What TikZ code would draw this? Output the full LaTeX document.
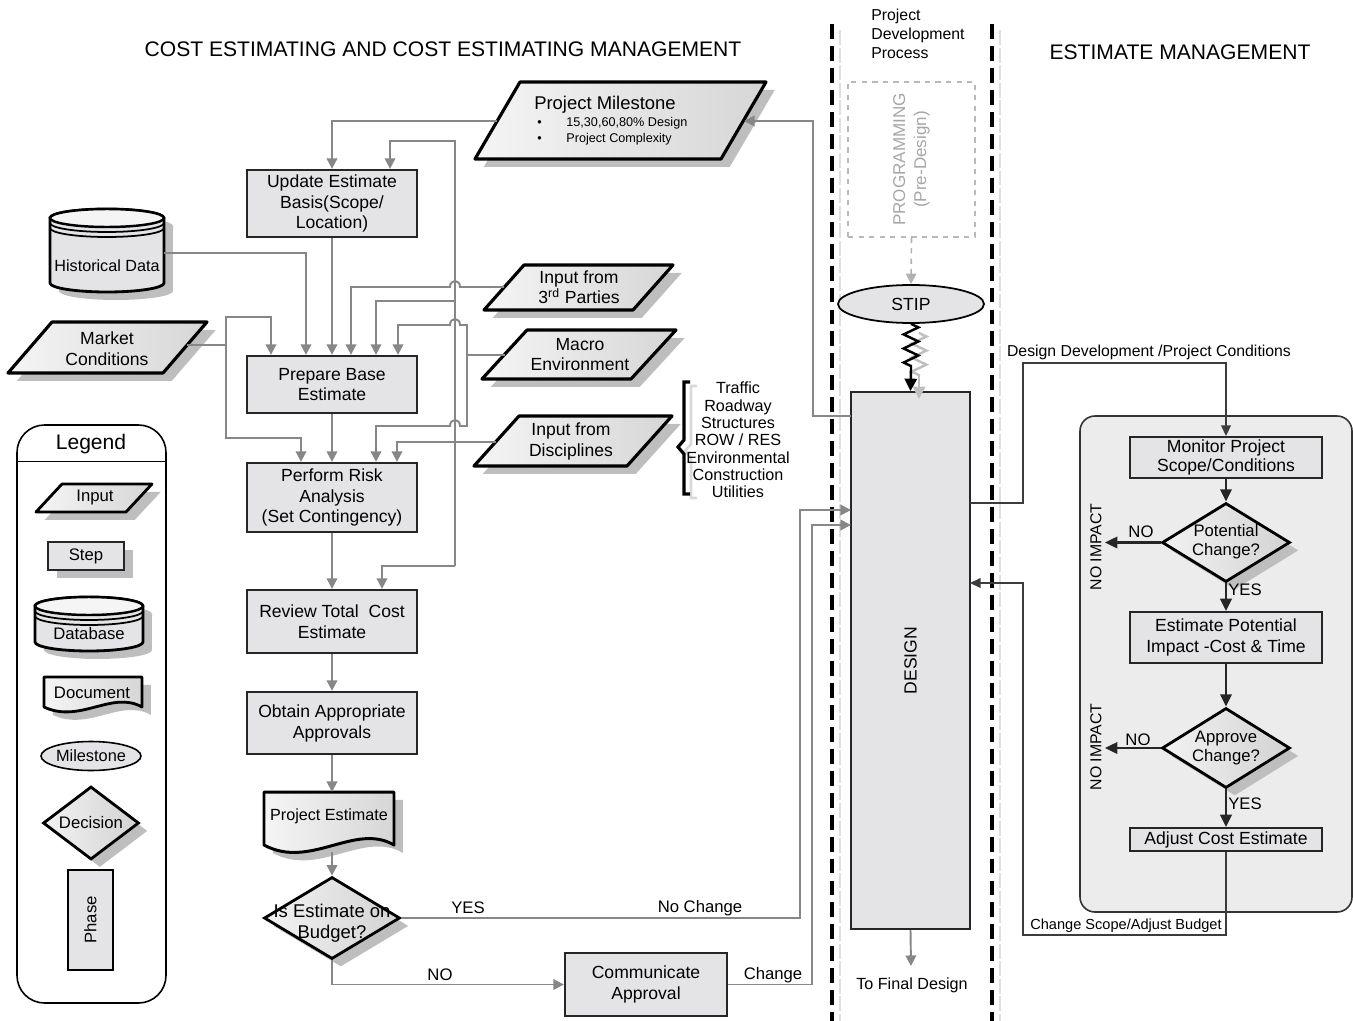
\documentclass[tikz,border=0pt]{standalone}
\usepackage{fontspec}
\setmainfont{Liberation Sans}
\usetikzlibrary{arrows.meta,decorations.pathmorphing,shapes.geometric,shadows,calc}
\definecolor{cgrey}{RGB}{135,135,138}
\definecolor{boxfill}{RGB}{228,228,230}
\definecolor{shd}{RGB}{190,190,190}
\definecolor{panelc}{RGB}{236,236,236}
\definecolor{dline}{RGB}{60,60,60}
\newcommand\fsz[2]{\fontsize{#1}{#2}\selectfont}
\def\pu{0.02cm}
\begin{document}
\begin{tikzpicture}[x=0.02cm,y=-0.02cm,
 conn/.style={draw=cgrey, line width=1.1pt, -{Triangle[length=6pt,width=6pt]}},
 gline/.style={draw=cgrey, line width=1.1pt},
 bconn/.style={draw=dline, line width=0.8pt, -{Triangle[length=6pt,width=5.5pt]}},
 pconn/.style={draw=black!85, line width=1.2pt, -{Triangle[length=7pt,width=6.5pt]}},
 stepbox/.style={draw=black!85, line width=1.3pt, fill=boxfill, inner sep=0pt, align=center, font=\fsz{10}{11.9}},
 parash/.style={draw=black, line width=1.8pt, line join=round, left color=gray!8, right color=gray!32},
 dia/.style={diamond, draw=black, line width=1.6pt, left color=gray!10, right color=gray!35, inner sep=0pt, shdw},
 shdw/.style={general shadow={fill=shd, shadow xshift=5pt, shadow yshift=-4.5pt}},
 lbl/.style={font=\fsz{9.5}{11}, inner sep=1pt},
 lane/.style={draw=black, line width=1.8pt, dash pattern=on 8.5pt off 4pt},
 lanelt/.style={draw=gray!25, line width=1pt, dash pattern=on 8.5pt off 1.5pt},
 zz/.style={decorate, decoration={zigzag, amplitude=4.2pt, segment length=8pt}},
 ]
\useasboundingbox (0,0) rectangle (1353,1021);

% titles
\node[font=\fsz{12}{14}] (ttl) at (443,49) {COST ESTIMATING AND COST ESTIMATING MANAGEMENT};
\node[font=\fsz{12}{14}] (ttr) at (1180,52) {ESTIMATE MANAGEMENT};
\node[font=\fsz{9}{10.8}, align=left, anchor=north west, inner sep=0pt] (pdp) at (871,9) {Project\\Development\\Process};

% lanes
\draw[lane] (832,24) -- (832,1021);
\draw[lanelt] (840,30) -- (840,1021);
\draw[lane] (992,24) -- (992,1021);
\draw[lanelt] (1000,30) -- (1000,1021);

% programming
\node[draw=gray!55, dashed, line width=0.7pt, minimum width=127*\pu, minimum height=155*\pu, inner sep=0pt] (prog) at (911.5,159.5) {};
\node[rotate=90, text=gray!70, font=\fsz{9.7}{12}, align=center] (progt) at (prog.center) {PROGRAMMING\\(Pre-Design)};
\node[ellipse, draw=black, line width=1pt, fill=boxfill, minimum width=146*\pu, minimum height=38*\pu, inner sep=0pt, font=\fsz{10}{12}] (stip) at (911,304) {STIP};
\draw[draw=gray!60, dashed, line width=0.9pt, -{Triangle[length=6pt,width=6pt]}] (prog.south) -- (stip.north);

% design
\node[draw=black!85, line width=1.2pt, fill=boxfill, minimum width=119*\pu, minimum height=537*\pu, inner sep=0pt] (des) at (910.5,660.5) {};
\node[rotate=90, font=\fsz{10}{12}] (dest) at (des.center) {DESIGN};
\coordinate (zg1) at (919,333);
\coordinate (zg2) at (919,376);
\coordinate (zg3) at (919,399);
\coordinate (zz2) at (911,370);
\draw[gray!50, line width=1.4pt, zz] (zg1) -- (zg2);
\draw[gray!50, line width=1.4pt, -{Triangle[length=7pt,width=7pt]}] (zg2) -- (zg3);
\draw[black, line width=1.4pt, zz] (stip.south) -- (zz2);
\draw[black, line width=1.4pt, -{Triangle[length=7pt,width=7pt]}] (zz2) -- (des.north);

% left steps
\node[stepbox, minimum width=170*\pu, minimum height=67*\pu] (upd) at (332,203.5) {Update Estimate\\Basis(Scope/\\Location)};
\node[stepbox, minimum width=170*\pu, minimum height=57*\pu] (prep) at (332,384.5) {Prepare Base\\Estimate};
\node[stepbox, minimum width=170*\pu, minimum height=69*\pu] (risk) at (332,497.5) {Perform Risk\\Analysis\\(Set Contingency)};
\node[stepbox, minimum width=170*\pu, minimum height=63*\pu] (rev) at (332,621.5) {Review Total\ \ Cost\\Estimate};
\node[stepbox, minimum width=170*\pu, minimum height=62*\pu] (obt) at (332,723) {Obtain Appropriate\\Approvals};
\node[stepbox, minimum width=162*\pu, minimum height=63*\pu] (comm) at (646,984.5) {Communicate\\Approval};

% document
\draw[parash, shdw, line width=1.7pt] (264,792) -- (394,792) -- (394,845) .. controls (355,822) and (310,870) .. (264,845) -- cycle;
\node[font=\fsz{9.2}{11}] (pest) at (329,816) {Project Estimate};
\coordinate (pestT) at (332,792);
\coordinate (pestB) at (332,852);

% decision
\node[dia, minimum width=136*\pu, minimum height=82*\pu] (dec) at (332,918) {};
\node[font=\fsz{10.5}{12}, align=center] (dect) at (332,923) {Is Estimate on\\Budget?};

% inputs
\draw[parash, shdw] (520,82) -- (766,82) -- (721,159) -- (475,159) -- cycle;
\node[font=\fsz{10.5}{12}] (pm) at (605,105) {Project Milestone};
\node[font=\fsz{7.2}{9}, anchor=west, inner sep=0pt] (pmb1) at (537,123) {\textbullet\hspace{14pt}15,30,60,80\% Design};
\node[font=\fsz{7.2}{9}, anchor=west, inner sep=0pt] (pmb2) at (537,139) {\textbullet\hspace{14pt}Project Complexity};
\coordinate (pmL) at (497,121);
\coordinate (pmR) at (744,121);

\draw[parash, shdw] (524,265) -- (673,265) -- (633,310) -- (484,310) -- cycle;
\node[font=\fsz{10}{11.5}, align=center] (tp) at (579,287) {Input from\\3\textsuperscript{rd} Parties};
\coordinate (tpL) at (504,287);
\draw[parash, shdw] (527,330) -- (676,330) -- (631,379) -- (482,379) -- cycle;
\node[font=\fsz{10}{11.5}, align=center] (mac) at (580,354.5) {Macro\\Environment};
\coordinate (macL) at (505,355);
\draw[parash, shdw] (519,416) -- (672,416) -- (627,466) -- (474,466) -- cycle;
\node[font=\fsz{10}{11.8}, align=center] (dis) at (571,441.5) {Input from\\Disciplines};
\coordinate (disL) at (496,442);
\draw[parash, shdw] (52,322) -- (207,322) -- (163,373) -- (8,373) -- cycle;
\node[font=\fsz{10}{11.8}, align=center] (mkt) at (107,348.5) {Market\\Conditions};
\coordinate (mktR) at (187,345);

% brace and list
\draw[gray!30, line width=1.5pt] (697,386) -- (691,386) -- (691,444) -- (685,451) -- (691,458) -- (691,498) -- (697,498);
\draw[black, line width=1.8pt] (690,382) -- (684,382) -- (684,440) -- (678,447) -- (684,454) -- (684,494) -- (690,494);
\node[font=\fsz{9.2}{9.85}, align=center] (disc) at (738,440) {Traffic\\Roadway\\Structures\\ROW / RES\\Environmental\\Construction\\Utilities};

% historical data cylinder
\fill[shd] (59,226) -- (59,291) arc[start angle=180,end angle=360,x radius=1.14cm,y radius=0.18cm] -- (173,226) arc[start angle=0,end angle=180,x radius=1.14cm,y radius=0.18cm] -- cycle;
\draw[black, line width=1.6pt, fill=boxfill] (50,218) -- (50,283) arc[start angle=180,end angle=360,x radius=1.14cm,y radius=0.18cm] -- (164,218) arc[start angle=0,end angle=180,x radius=1.14cm,y radius=0.18cm] -- cycle;
\draw[black, line width=1.4pt, fill=gray!8] (107,218) ellipse[x radius=1.14cm, y radius=0.18cm];
\draw[black, line width=1pt] (50,223) arc[start angle=180,end angle=360,x radius=1.14cm,y radius=0.18cm];
\draw[black, line width=1pt] (50,228) arc[start angle=180,end angle=360,x radius=1.14cm,y radius=0.18cm];
\node[font=\fsz{9.2}{11}] (hist) at (107,266) {Historical Data};
\coordinate (histE) at (164,253);

% left connectors
\draw[conn] (pmL) -| (upd.north);
\coordinate (busT) at (455,141);
\coordinate (busM) at (455,301);
\coordinate (busB) at (455,566);
\draw[conn] (busB) -- (busT) -| ($(upd.north)+(58,0)$);
\draw[conn] (busM) -| ($(prep.north)+(44,0)$);
\draw[conn] (busB) -| ($(rev.north)+(50,0)$);
\draw[conn] (histE) -| ($(prep.north)+(-26,0)$);
\draw[conn] (upd.south) -- (prep.north);
\draw[conn] (tpL) -- (460,287) .. controls (460,279) and (450,279) .. (450,287) -| ($(prep.north)+(19,0)$);
\coordinate (macJ) at (467,355);
\draw[gline] (macL) -- (macJ);
\draw[conn] (macJ) -- (467,325) -- (460,325) .. controls (460,317) and (450,317) .. (450,325) -| ($(prep.north)+(66,0)$);
\draw[conn] (macJ) -- (467,426) -- (460,426) .. controls (460,418) and (450,418) .. (450,426) -| ($(risk.north)+(44,0)$);
\draw[conn] (disL) -| ($(risk.north)+(65,0)$);
\coordinate (mktJ) at (226,345);
\draw[gline] (mktR) -- (mktJ);
\draw[conn] (mktJ) -- (226,317) -| ($(prep.north)+(-61,0)$);
\draw[conn] (mktJ) -- (226,438) -| ($(risk.north)+(-31,0)$);
\draw[conn] (prep.south) -- (risk.north);
\draw[conn] (risk.south) -- (rev.north);
\draw[conn] (rev.south) -- (obt.north);
\draw[conn] (obt.south) -- (pestT);
\draw[conn] (pestB) -- (dec.north);

\coordinate (dIn1) at (851,510);
\coordinate (dIn2) at (851,525);
\coordinate (dOutPM) at (851,416);
\coordinate (dOutR) at (970,503);
\coordinate (dInR) at (970,583);
\coordinate (fin) at (911,966);
\draw[conn] (dec.east) -- (800,918) |- (dIn1);
\draw[conn] (dec.south) |- (comm.west);
\draw[conn] (comm.east) -- (812,984.5) |- (dIn2);
\draw[conn] (dOutPM) -- (813,416) |- (pmR);
\draw[conn] (des.south) -- (fin);
\node[lbl] (lyes) at (468,908) {YES};
\node[lbl] (lnoc) at (700,908) {No Change};
\node[lbl] (lno) at (440,975) {NO};
\node[lbl] (lchg) at (773,975) {Change};
\node[font=\fsz{9.2}{11}] (lfin) at (912,985) {To Final Design};

% estimate management panel
\node[draw=black!80, line width=0.9pt, fill=panelc, rounded corners=0.3cm, minimum width=272*\pu, minimum height=496*\pu, inner sep=0pt] (panel) at (1216,664) {};
\node[stepbox, line width=1.1pt, minimum width=192*\pu, minimum height=41*\pu, font=\fsz{10}{11}] (mon) at (1226,457.5) {Monitor Project\\Scope/Conditions};
\node[dia, minimum width=128*\pu, minimum height=79*\pu] (pot) at (1226,542.5) {};
\node[font=\fsz{9.5}{10.8}, align=center] (pott) at (1226,542) {Potential\\Change?};
\node[stepbox, line width=1.1pt, minimum width=192*\pu, minimum height=51*\pu] (est) at (1226,637.5) {Estimate Potential\\Impact -Cost \& Time};
\node[dia, minimum width=128*\pu, minimum height=80*\pu] (app) at (1226,748) {};
\node[font=\fsz{9.5}{10.8}, align=center] (appt) at (1226,748) {Approve\\Change?};
\node[stepbox, line width=1.1pt, minimum width=192*\pu, minimum height=23*\pu] (adj) at (1226,839.5) {Adjust Cost Estimate};
\coordinate (noi1) at (1105,542.5);
\coordinate (noi2) at (1105,748);
\draw[pconn] (mon.south) -- (pot.north);
\draw[pconn] (pot.west) -- (noi1);
\draw[pconn] (pot.south) -- (est.north);
\draw[pconn] (est.south) -- (app.north);
\draw[pconn] (app.west) -- (noi2);
\draw[pconn] (app.south) -- (adj.north);
\node[lbl] (pno) at (1141,532) {NO};
\node[lbl] (ano) at (1138,740) {NO};
\node[lbl] (pyes) at (1245,590) {YES};
\node[lbl] (ayes) at (1245,804) {YES};
\node[lbl, rotate=90, font=\fsz{9}{11}] (ni1) at (1096,547) {NO IMPACT};
\node[lbl, rotate=90, font=\fsz{9}{11}] (ni2) at (1096,747) {NO IMPACT};
\draw[bconn] (dOutR) -- (1023,503) -- (1023,363) -| (mon.north);
\node[font=\fsz{9}{11}] (ddl) at (1149,352) {Design Development /Project Conditions};
\draw[bconn] (adj.south) -- (1226,935) -- (1023,935) -- (1023,583) -- (dInR);
\node[font=\fsz{8.3}{10}] (csab) at (1126,926) {Change Scope/Adjust Budget};

% legend
\node[draw=black, line width=0.9pt, rounded corners=0.55cm, minimum width=149*\pu, minimum height=578*\pu, inner sep=0pt] (leg) at (91.5,714) {};
\draw[line width=0.7pt] ($(leg.north west)+(0,37)$) -- ($(leg.north east)+(0,37)$);
\node[font=\fsz{12}{14}] (legt) at (91,444) {Legend};
\draw[parash, shdw, line width=1.6pt] (62,484) -- (152,484) -- (126,512) -- (36,512) -- cycle;
\node[font=\fsz{9.5}{11}] (lin) at (95,497) {Input};
\node[stepbox, shdw, line width=1.6pt, minimum width=76*\pu, minimum height=28*\pu, font=\fsz{9.5}{11}] (lstep) at (86,556) {Step};
\fill[shd] (44,614) -- (44,650) arc[start angle=180,end angle=360,x radius=1.08cm,y radius=0.18cm] -- (152,614) arc[start angle=0,end angle=180,x radius=1.08cm,y radius=0.18cm] -- cycle;
\draw[black, line width=1.6pt, fill=boxfill] (35,606) -- (35,642) arc[start angle=180,end angle=360,x radius=1.08cm,y radius=0.18cm] -- (143,606) arc[start angle=0,end angle=180,x radius=1.08cm,y radius=0.18cm] -- cycle;
\draw[black, line width=1.4pt, fill=gray!8] (89,606) ellipse[x radius=1.08cm, y radius=0.18cm];
\draw[black, line width=1pt] (35,611) arc[start angle=180,end angle=360,x radius=1.08cm,y radius=0.18cm];
\draw[black, line width=1pt] (35,616) arc[start angle=180,end angle=360,x radius=1.08cm,y radius=0.18cm];
\node[font=\fsz{9.5}{11}] (ldb) at (89,634) {Database};
\draw[parash, shdw, line width=1.6pt] (44,677) -- (142,677) -- (142,707) .. controls (112,690) and (80,724) .. (44,707) -- cycle;
\node[font=\fsz{9.5}{11}] (ldoc) at (92,693) {Document};
\node[ellipse, draw=black, line width=0.9pt, fill=boxfill, minimum width=100*\pu, minimum height=29*\pu, inner sep=0pt, font=\fsz{9.3}{11}] (lms) at (91,756) {Milestone};
\node[dia, minimum width=96*\pu, minimum height=73*\pu] (ldec) at (91,823) {};
\node[font=\fsz{9.5}{11}] (ldect) at (91,823) {Decision};
\node[draw=black, line width=0.9pt, fill=boxfill, minimum width=45*\pu, minimum height=100*\pu, inner sep=0pt] (lph) at (90.5,920) {};
\node[rotate=90, font=\fsz{9.5}{11}] (lpht) at (lph.center) {Phase};
\end{tikzpicture}
\end{document}
